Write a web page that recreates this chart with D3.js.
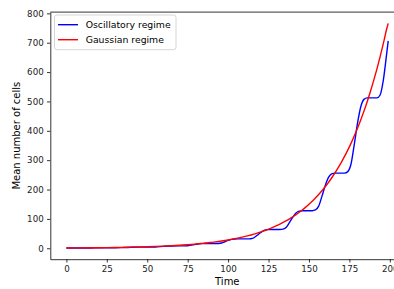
<!DOCTYPE html>
<html>
<head>
<meta charset="utf-8">
<script src="https://cdn.jsdelivr.net/npm/d3@7"></script>
<style>
  body { margin: 0; background: #fff; }
  text { font-family: "DejaVu Sans", sans-serif; fill: #000; }
  .axis path, .axis line { stroke: #000; stroke-width: 0.8; }
  .axis text { font-size: 8.7px; fill: #222; }
</style>
</head>
<body>
<div id="chart"></div>
<script>
const width = 394;
const height = 289;

// time points (irregular: coarse where values are tiny)
const times = [0, 5, 10, 15, 20, 25, 30, 35, 40, 45, 50, 55, 60, 65, 70, 75, 80,
  82, 84, 86, 88, 90, 92, 94, 96, 98, 100, 102, 104, 106, 108, 110, 112, 114, 116, 118,
  120, 122, 124, 126, 128, 130, 132, 134, 136, 138, 140, 142, 144, 146, 148, 150, 152,
  154, 156, 158, 160, 162, 164, 166, 168, 170, 172, 174, 176, 178, 180, 182, 184, 186,
  188, 190, 192, 194, 196, 198, 199];

// mean number of cells, oscillatory regime (blue)
const oscillatory = [1, 1, 1, 1.1, 1.66, 2, 2, 2.2, 3.3, 3.95, 4, 4.4, 6.6, 7.9, 8, 8.8, 13.3,
  15, 15.8, 16, 16, 16, 16, 16.3, 17.9, 22.1, 26.6, 30.1, 31.7, 32, 32, 32, 32, 32.6, 35.8, 44.2,
  53.1, 60.2, 63.4, 64, 64, 64, 64, 65.3, 71.7, 88.3, 106.2, 120.3, 126.7, 128, 128, 128, 128,
  130.6, 143.4, 176.6, 212.5, 240.6, 253.4, 256, 256, 256, 256, 261, 287, 353, 425, 481, 507, 512,
  512, 512, 512, 522, 573, 660, 706];

// mean number of cells, gaussian regime (red)
const gaussian = [1, 1.18, 1.4, 1.65, 1.95, 2.3, 2.72, 3.22, 3.8, 4.5, 5.31, 6.28, 7.42, 8.77, 10.4, 12.2, 14.5,
  15.5, 16.5, 17.7, 18.9, 20.2, 21.6, 23.1, 24.7, 26.4, 28.2, 30.2, 32.3, 34.5, 36.9, 39.4, 42.1, 45.1, 48.1, 51.5,
  55, 58.9, 62.9, 67.2, 71.9, 76.9, 82.2, 87.9, 93.9, 100.4, 107.4, 114.8, 122.7, 131.1, 140.2, 149.9, 160.3,
  171.4, 183.1, 195.8, 209.3, 223.8, 239.3, 255.8, 273.5, 292.4, 312.7, 334.3, 357.3, 382.1, 408.5, 436.8, 467, 499.2,
  533.8, 570.7, 610.2, 652.4, 697.5, 745.8, 766];

const xTicks = [0, 25, 50, 75, 100, 125, 150, 175, 200];
const yTicks = [0, 100, 200, 300, 400, 500, 600, 700, 800];

const seriesNames = ['Oscillatory regime', 'Gaussian regime'];
const seriesColors = ['#0000ff', '#ff0000'];

// plot box
const plotLeft = 50.3, plotRight = 404.3, plotTop = 12.1, plotBottom = 259.2;

const svg = d3.select('#chart')
  .append('svg')
  .attr('width', width)
  .attr('height', height);

const x = d3.scaleLinear().domain([-9.95, 208.95]).range([plotLeft, plotRight]);
const y = d3.scaleLinear().domain([-37.25, 804.25]).range([plotBottom, plotTop]);

// axes
svg.append('g')
  .attr('class', 'axis')
  .attr('transform', 'translate(0,' + plotBottom + ')')
  .call(d3.axisBottom(x).tickValues(xTicks).tickSize(3.3).tickPadding(3.5).tickSizeOuter(0));

svg.append('g')
  .attr('class', 'axis')
  .attr('transform', 'translate(' + plotLeft + ',0)')
  .call(d3.axisLeft(y).tickValues(yTicks).tickSize(3.3).tickPadding(3.3).tickSizeOuter(0));

// top / right spines
svg.append('line')
  .attr('x1', plotLeft).attr('x2', plotRight)
  .attr('y1', plotTop).attr('y2', plotTop)
  .attr('stroke', '#000').attr('stroke-width', 0.8);
svg.append('line')
  .attr('x1', plotRight).attr('x2', plotRight)
  .attr('y1', plotTop).attr('y2', plotBottom)
  .attr('stroke', '#000').attr('stroke-width', 0.8);

// lines
const line = d3.line()
  .x((d, i) => x(times[i]))
  .y(d => y(d))
  .curve(d3.curveMonotoneX);

[oscillatory, gaussian].forEach((vals, i) => {
  svg.append('path')
    .datum(vals)
    .attr('d', line)
    .attr('fill', 'none')
    .attr('stroke', seriesColors[i])
    .attr('stroke-width', 1.4);
});

// axis labels
svg.append('text')
  .attr('x', (plotLeft + plotRight) / 2)
  .attr('y', 285.3)
  .attr('text-anchor', 'middle')
  .style('font-size', '10px')
  .text('Time');

svg.append('text')
  .attr('transform', 'translate(20.3,' + ((plotTop + plotBottom) / 2) + ') rotate(-90)')
  .attr('text-anchor', 'middle')
  .style('font-size', '10px')
  .text('Mean number of cells');

// legend
const legend = svg.append('g');
legend.append('rect')
  .attr('x', 54.5).attr('y', 15)
  .attr('width', 121.5).attr('height', 34.7)
  .attr('rx', 2.5)
  .attr('fill', '#fff').attr('fill-opacity', 0.8)
  .attr('stroke', '#ccc').attr('stroke-width', 0.8);

seriesNames.forEach((name, i) => {
  const cy = 24.7 + i * 15;
  legend.append('line')
    .attr('x1', 58).attr('x2', 78)
    .attr('y1', cy).attr('y2', cy)
    .attr('stroke', seriesColors[i]).attr('stroke-width', 1.4);
  legend.append('text')
    .attr('x', 85.7).attr('y', cy)
    .attr('dy', '0.35em')
    .style('font-size', '9.3px')
    .text(name);
});
</script>
</body>
</html>
